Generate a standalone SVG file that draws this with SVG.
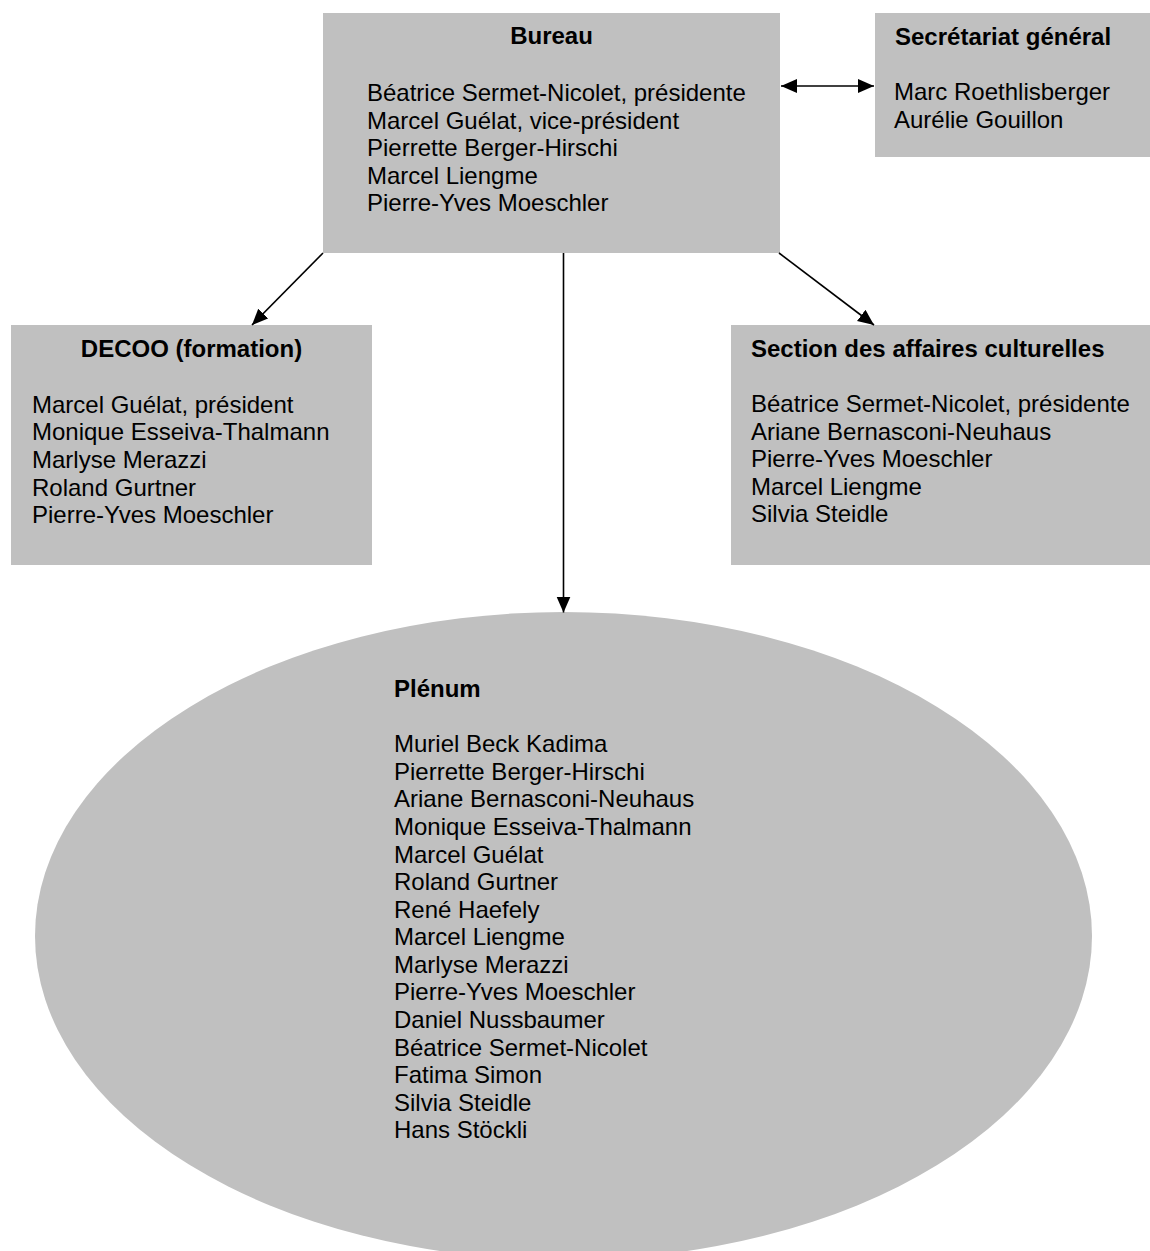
<svg xmlns="http://www.w3.org/2000/svg" width="1150" height="1251" viewBox="0 0 1150 1251">
<style>
.box{fill:#c0c0c0;stroke:none}
text{font-family:"Liberation Sans",Arial,Helvetica,sans-serif;font-size:24px;fill:#000}
.t{font-weight:bold}
.c{text-anchor:middle}
.conn{stroke:#000;stroke-width:1.6;fill:none}
</style>
<defs>
<marker id="ah" markerUnits="userSpaceOnUse" markerWidth="18" markerHeight="16" refX="16" refY="7" orient="auto-start-reverse" viewBox="0 0 18 16">
<path d="M0,0 L16,7 L0,14 z" fill="#000"/>
</marker>
</defs>
<rect width="1150" height="1251" fill="#fff"/>

<g id="plenum">
<ellipse class="box" cx="563.5" cy="936" rx="528.5" ry="324"/>
<text class="t" x="394" y="697">Plénum</text>
<text x="394" y="752.3">Muriel Beck Kadima</text>
<text x="394" y="779.9">Pierrette Berger-Hirschi</text>
<text x="394" y="807.4">Ariane Bernasconi-Neuhaus</text>
<text x="394" y="835">Monique Esseiva-Thalmann</text>
<text x="394" y="862.6">Marcel Guélat</text>
<text x="394" y="890.1">Roland Gurtner</text>
<text x="394" y="917.7">René Haefely</text>
<text x="394" y="945.3">Marcel Liengme</text>
<text x="394" y="972.9">Marlyse Merazzi</text>
<text x="394" y="1000.4">Pierre-Yves Moeschler</text>
<text x="394" y="1028">Daniel Nussbaumer</text>
<text x="394" y="1055.6">Béatrice Sermet-Nicolet</text>
<text x="394" y="1083.1">Fatima Simon</text>
<text x="394" y="1110.7">Silvia Steidle</text>
<text x="394" y="1138.3">Hans Stöckli</text>
</g>

<g id="bureau">
<rect class="box" x="323" y="13" width="457" height="240"/>
<text class="t c" x="551.5" y="44">Bureau</text>
<text x="367" y="101">Béatrice Sermet-Nicolet, présidente</text>
<text x="367" y="128.6">Marcel Guélat, vice-président</text>
<text x="367" y="156.2">Pierrette Berger-Hirschi</text>
<text x="367" y="183.8">Marcel Liengme</text>
<text x="367" y="211.4">Pierre-Yves Moeschler</text>
</g>

<g id="secretariat">
<rect class="box" x="875" y="13" width="275" height="144"/>
<text class="t" x="895" y="45">Secrétariat général</text>
<text x="894" y="100">Marc Roethlisberger</text>
<text x="894" y="127.6">Aurélie Gouillon</text>
</g>

<g id="decoo">
<rect class="box" x="11" y="325" width="361" height="240"/>
<text class="t c" x="191.5" y="356.7">DECOO (formation)</text>
<text x="32" y="412.8">Marcel Guélat, président</text>
<text x="32" y="440.4">Monique Esseiva-Thalmann</text>
<text x="32" y="468">Marlyse Merazzi</text>
<text x="32" y="495.6">Roland Gurtner</text>
<text x="32" y="523.2">Pierre-Yves Moeschler</text>
</g>

<g id="section">
<rect class="box" x="731" y="325" width="419" height="240"/>
<text class="t" x="751" y="356.7">Section des affaires culturelles</text>
<text x="751" y="412">Béatrice Sermet-Nicolet, présidente</text>
<text x="751" y="439.6">Ariane Bernasconi-Neuhaus</text>
<text x="751" y="467.2">Pierre-Yves Moeschler</text>
<text x="751" y="494.8">Marcel Liengme</text>
<text x="751" y="522.4">Silvia Steidle</text>
</g>

<g id="connectors">
<line class="conn" x1="781" y1="86" x2="874" y2="86" marker-start="url(#ah)" marker-end="url(#ah)"/>
<line class="conn" x1="323" y1="253" x2="252" y2="325" marker-end="url(#ah)"/>
<line class="conn" x1="563.5" y1="253" x2="563.5" y2="612.5" marker-end="url(#ah)"/>
<line class="conn" x1="779" y1="253" x2="874" y2="325" marker-end="url(#ah)"/>
</g>
</svg>
